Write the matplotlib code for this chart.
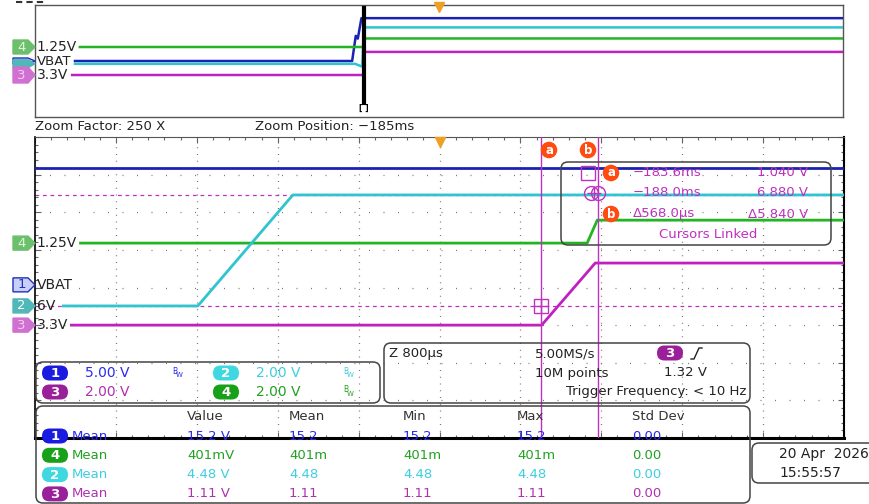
import matplotlib
matplotlib.use('Agg')
import matplotlib.pyplot as plt
import matplotlib.transforms as mtransforms
from matplotlib.patches import FancyBboxPatch, Polygon
import numpy as np

W, H = 869, 504

# ---- waveform data (time in ms, trigger at 0; volts) ----
# overview record, 200 ms/div
ov_t1 = [-901, -215, -206, -201, -192, 1000]
ov_v1 = [0.0, 0.0, 9.0, 8.0, 15.3, 15.3]
ov_t2 = [-901, -208, -190, -186, 1000]
ov_v2 = [0.0, 0.0, -0.4, 5.2, 5.2]
ov_t3 = [-908, -186, -184, 1000]
ov_v3 = [0.0, 0.0, 3.3, 3.3]
ov_t4 = [-889, -186, -184, 1000]
ov_v4 = [0.0, 0.0, 1.22, 1.22]

# zoomed window, 800 us/div around -185 ms
zm_t1 = [-189.0, -181.0]
zm_v1 = [15.5, 15.5]
zm_t2 = [-188.72, -187.39, -186.45, -181.0]
zm_v2 = [0.0, 0.0, 5.9, 5.9]
zm_t3 = [-188.64, -183.99, -183.46, -181.0]
zm_v3 = [0.0, 0.0, 3.3, 3.3]
zm_t4 = [-188.55, -183.54, -183.44, -181.0]
zm_v4 = [0.0, 0.0, 1.22, 1.22]

volts_per_div = [5.0, 2.0, 2.0, 2.0]
ov_offsets = [0.0, -0.2, -1.0, 1.0]     # divisions
zm_offsets = [0.07, -0.49, -1.0, 1.18]
ch_labels = ['VBAT', '6V', '3.3V', '1.25V']

zoom_pos = -185.0
zoom_half = 4.0
ov_half = 1000.0
cursor_t = [-184.0, -183.43]
cursor_div = [2.46, -0.49]

scale_text = ['5.00 V', '2.00 V', '2.00 V', '2.00 V']
meas_headers = ['Value', 'Mean', 'Min', 'Max', 'Std Dev']
meas_order = [1, 4, 2, 3]
meas_value = ['15.2 V', '401mV', '4.48 V', '1.11 V']
meas_mean = ['15.2', '401m', '4.48', '1.11']
meas_min = ['15.2', '401m', '4.48', '1.11']
meas_max = ['15.2', '401m', '4.48', '1.11']
meas_std = ['0.00', '0.00', '0.00', '0.00']
readout_time = ['\u2212183.6ms', '\u2212188.0ms', '\u0394568.0\u00b5s']
readout_volt = ['1.040 V', '6.880 V', '\u03945.840 V']

TRACE = {1: '#1c22b0', 2: '#2ec4d0', 3: '#c020c0', 4: '#22b422'}
TEXTC = {1: '#2a2af0', 2: '#3ccfe0', 3: '#b030b0', 4: '#22a022'}
OVAL = {1: '#1a1ae0', 2: '#40d8e0', 3: '#9a209a', 4: '#18a018'}
TAG = {1: ('#c8d0f8', '#2030c0', '#2030c0'), 2: ('#50b8b8', '#50b8b8', 'white'),
       3: ('#d070d0', '#d070d0', '#f4d0f4'), 4: ('#6cc06c', '#6cc06c', '#e0f5e0')}
CURS = '#c030c0'
FS = 9.5

plt.rcParams['font.family'] = ['DejaVu Sans']
fig = plt.figure(figsize=(W / 100, H / 100), dpi=100)


def pix_axes(x0, y0, x1, y1):
    return fig.add_axes([x0 / W, 1 - y1 / H, (x1 - x0) / W, (y1 - y0) / H])


def draw_tag(ax, level, num, label, fs=FS, half=7, show_num=True):
    fc, ec, tc = TAG[num]
    trans = fig.dpi_scale_trans + mtransforms.ScaledTranslation(0, level, ax.get_yaxis_transform())
    pts = np.array([[-22, -half], [-7, -half], [0, 0], [-7, half], [-22, half]]) / 100.0
    ax.add_patch(Polygon(pts, closed=True, transform=trans, fc=fc, ec=ec, lw=1,
                         clip_on=False, zorder=6))
    if show_num:
        ax.text(-0.135, 0, str(num), transform=trans, ha='center', va='center', color=tc,
                fontsize=fs, clip_on=False, zorder=7)
    if label:
        ax.text(0.015, 0, label, transform=trans, ha='left', va='center', fontsize=fs + 0.5,
                color='#222222', clip_on=False, zorder=7)


# ---- overview panel ----
ax_ov = pix_axes(35, 5, 843, 117)
ax_ov.set_xlim(-ov_half, ov_half)
ax_ov.set_ylim(-4, 4)
ax_ov.set_xticks([]); ax_ov.set_yticks([])
for s in ax_ov.spines.values():
    s.set_color('#555555'); s.set_linewidth(1)

ov_data = [(ov_t1, ov_v1), (ov_t2, ov_v2), (ov_t3, ov_v3), (ov_t4, ov_v4)]
for ch in [1, 2, 4, 3]:
    t, v = ov_data[ch - 1]
    lvl = np.array(v) / volts_per_div[ch - 1] + ov_offsets[ch - 1]
    ax_ov.plot(t, lvl, color=TRACE[ch], lw=1.8, zorder=3)
draw_tag(ax_ov, ov_offsets[0], 1, ch_labels[0], fs=9, half=3, show_num=False)
draw_tag(ax_ov, ov_offsets[1], 2, '', half=4, show_num=False)
draw_tag(ax_ov, ov_offsets[3], 4, ch_labels[3])
draw_tag(ax_ov, ov_offsets[2], 3, ch_labels[2], half=8)
ax_ov.plot([zoom_pos, zoom_pos], [-3.0, 3.8], color='black', lw=3, zorder=5)
ax_ov.text(zoom_pos, -3.4, '[ ]', ha='center', va='center', fontsize=5.5, fontweight='bold')
ax_ov.plot(0, 3.85, marker='v', color='#f0a020', ms=7, clip_on=False, zorder=6)

# ---- zoomed main panel ----
ax_m = pix_axes(35, 137, 844, 438)
x0, x1 = zoom_pos - zoom_half, zoom_pos + zoom_half
ax_m.set_xlim(x0, x1)
ax_m.set_ylim(-4, 4)
ax_m.set_xticks(np.linspace(x0, x1, 11))
ax_m.set_xticks(np.linspace(x0, x1, 51), minor=True)
ax_m.set_yticks(np.arange(-4, 5, 1))
ax_m.set_yticks(np.arange(-4, 4.01, 0.2), minor=True)
ax_m.tick_params(which='both', direction='in', top=True, right=True,
                 labelbottom=False, labelleft=False, color='#666666', width=0.8)
ax_m.tick_params(which='major', length=4)
ax_m.tick_params(which='minor', length=2.5)
ax_m.spines['top'].set_color('#555555')
ax_m.spines['left'].set_linewidth(1.2)
ax_m.spines['right'].set_linewidth(1.5)
ax_m.spines['bottom'].set_linewidth(2.2)

for xv in np.linspace(x0, x1, 11)[1:-1]:
    ax_m.axvline(xv, color='#777777', lw=0.9, dashes=(0.8, 4.6), zorder=1)
for yv in range(-3, 4):
    ax_m.axhline(yv, color='#777777', lw=0.9, dashes=(0.8, 10.8), zorder=1)

for yv in cursor_div:
    ax_m.axhline(yv, color=CURS, lw=0.9, dashes=(3, 3), zorder=2)

zm_data = [(zm_t1, zm_v1), (zm_t2, zm_v2), (zm_t3, zm_v3), (zm_t4, zm_v4)]
for ch in [3, 4, 2, 1]:
    t, v = zm_data[ch - 1]
    lvl = np.array(v) / volts_per_div[ch - 1] + zm_offsets[ch - 1]
    ax_m.plot(t, lvl, color=TRACE[ch], lw=2.0, zorder=3)
for ch in [4, 1, 2, 3]:
    draw_tag(ax_m, zm_offsets[ch - 1], ch, ch_labels[ch - 1])

for tc in cursor_t:
    ax_m.axvline(tc, color=CURS, lw=1.0, zorder=4)
ax_m.plot(cursor_t[0], cursor_div[1], marker='s', ms=10.5, mfc='none', mec=CURS, mew=1, zorder=5)
ax_m.plot(cursor_t[0], cursor_div[1], marker='+', ms=10.5, color=CURS, mew=1, zorder=5)
ax_m.plot(zoom_pos, 3.88, marker='v', color='#f0a020', ms=7, clip_on=False, zorder=6)

# ---- overlay for readouts (pixel coordinates) ----
ax_o = fig.add_axes([0, 0, 1, 1], zorder=10)
ax_o.set_xlim(0, W); ax_o.set_ylim(H, 0)
ax_o.axis('off')
ax_o.patch.set_alpha(0)


def rbox(xa, ya, xb, yb, r=7, ec='#444444'):
    ax_o.add_patch(FancyBboxPatch((xa, ya), xb - xa, yb - ya,
                                  boxstyle=f'round,pad=0,rounding_size={r}',
                                  fc='none', ec=ec, lw=1.1))


def oval(x, y, num, color, w=26, h=15):
    ax_o.add_patch(FancyBboxPatch((x - w / 2, y - h / 2), w, h,
                                  boxstyle=f'round,pad=0,rounding_size={h / 2}',
                                  fc=color, ec='none', zorder=3))
    ax_o.text(x, y + 0.5, str(num), ha='center', va='center', color='white',
              fontsize=FS, fontweight='bold', zorder=4)


def badge(x, y, letter):
    ax_o.text(x, y, letter, ha='center', va='center', color='white', fontsize=8.5,
              fontweight='bold',
              bbox=dict(boxstyle='circle,pad=0.15', fc='#ff4a10', ec='none'))


ax_o.plot([16, 46], [1.5, 1.5], color='#333333', lw=1.5, dashes=(3, 2))
ax_o.text(35, 126, 'Zoom Factor: 250 X', fontsize=FS, va='center', color='#222222')
ax_o.text(255, 126, 'Zoom Position: \u2212185ms', fontsize=FS, va='center', color='#222222')

# cursor letters and readout
badge(549, 150, 'a')
badge(588, 150, 'b')
rbox(561, 162, 831, 245)
ax_o.plot(588, 173, marker='s', ms=10, mfc='none', mec=CURS, mew=1)
ax_o.plot(591, 193, marker='o', ms=10, mfc='none', mec=CURS, mew=1)
ax_o.plot(598, 193, marker='o', ms=10, mfc='none', mec=CURS, mew=1)
ax_o.plot(594, 193, marker='+', ms=10, color=CURS, mew=1)
badge(611, 173, 'a')
badge(611, 214, 'b')
for i, y in enumerate([173, 193, 214]):
    ax_o.text(633, y, readout_time[i], fontsize=FS, va='center', color=CURS)
    ax_o.text(808, y, readout_volt[i], fontsize=FS, va='center', ha='right', color=CURS)
ax_o.text(708, 235, 'Cursors Linked', fontsize=FS, va='center', ha='center', color=CURS)

# channel scale box
rbox(36, 362, 380, 403)
for ch, (xc, y) in zip([1, 2, 3, 4], [(55, 373), (226, 373), (55, 392), (226, 392)]):
    oval(xc, y, ch, OVAL[ch])
    ax_o.text(xc + 30, y, scale_text[ch - 1], fontsize=FS + 0.5, va='center', color=TEXTC[ch])
    if ch != 3:
        bx = xc + 117
        ax_o.text(bx, y - 2, 'B', fontsize=5.5, va='center', color=TEXTC[ch])
        ax_o.text(bx + 4, y + 2, 'W', fontsize=5, va='center', color=TEXTC[ch])

# timebase / trigger box
rbox(384, 343, 750, 403)
ax_o.text(389, 354, 'Z 800\u00b5s', fontsize=FS, va='center', color='#222222')
ax_o.text(535, 354, '5.00MS/s', fontsize=FS, va='center', color='#222222')
ax_o.text(535, 373, '10M points', fontsize=FS, va='center', color='#222222')
oval(670, 353, 3, OVAL[3])
ax_o.plot([691, 694, 699, 702], [359, 359, 348, 348], color='#222222', lw=1)
ax_o.text(664, 373, '1.32 V', fontsize=FS, va='center', color='#222222')
ax_o.text(746, 392, 'Trigger Frequency: < 10 Hz', fontsize=FS, va='center', ha='right',
          color='#222222')

# measurement table
rbox(36, 406, 750, 503)
col_x = [187, 289, 403, 517, 632]
for x, hd in zip(col_x, meas_headers):
    ax_o.text(x, 416, hd, fontsize=FS, va='center', color='#333333')
for i, ch in enumerate(meas_order):
    y = 436 + i * 19.3
    oval(55, y, ch, OVAL[ch])
    ax_o.text(72, y, 'Mean', fontsize=FS, va='center', color=TEXTC[ch])
    row = [meas_value[i], meas_mean[i], meas_min[i], meas_max[i], meas_std[i]]
    for x, s in zip(col_x, row):
        ax_o.text(x, y, s, fontsize=FS, va='center', color=TEXTC[ch])

# date box
rbox(752, 443, 885, 483)
ax_o.text(779, 454, '20 Apr  2026', fontsize=FS + 0.5, va='center', color='#222222')
ax_o.text(779, 473, '15:55:57', fontsize=FS + 0.5, va='center', color='#222222')

fig.savefig('out.png', dpi=100, facecolor='white')
